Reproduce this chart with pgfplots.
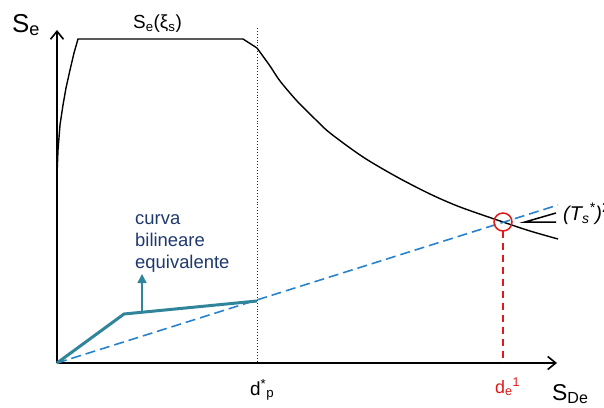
\documentclass[border=0pt]{standalone}
\usepackage{pgfplots}
\pgfplotsset{compat=1.18}
\usepackage{fontspec}
\setmainfont{Liberation Sans}
\usetikzlibrary{arrows.meta}
\definecolor{teal1}{RGB}{49,133,155}
\definecolor{blued}{RGB}{40,130,205}
\definecolor{navyt}{RGB}{31,56,110}
\definecolor{redc}{RGB}{225,25,25}
\begin{document}
\begin{tikzpicture}
\begin{axis}[
  width=604bp, height=408bp, scale only axis,
  xmin=0, xmax=604, ymin=0, ymax=408, y dir=reverse,
  hide axis, clip=false,
]
\addplot[draw=none] coordinates {(0,0) (604,408)};
% axes
\addplot[black, line width=1.6bp, -{Straight Barb[length=8bp,width=13bp]}] coordinates {(57,363) (57,30)};
\addplot[black, line width=1.6bp, -{Straight Barb[length=8bp,width=13bp]}] coordinates {(57,363) (557,363)};
% dotted vertical at d*_p
\addplot[black!85, line width=0.9bp, dotted] coordinates {(257,28) (257,363)};
% elastic spectrum
\addplot[black, line width=1.4bp] coordinates {(57,363) (57,175) (58,150) (60,125) (63,105) (66,88) (70,70) (74,53) (78,39) (243,39) (257,48)};
\addplot[black, line width=1.4bp, smooth] coordinates {(257,48) (270,66) (280,81) (297,101) (315,119) (330,133) (363,157) (397,177) (430,194) (460,207) (503,222) (530,231) (558,239)};
% secant (blue dashed)
\addplot[blued, line width=1.6bp, dash pattern=on 10bp off 5bp] coordinates {(57,363) (558,205)};
% bilinear curve
\addplot[teal1, line width=3bp] coordinates {(57,363) (124,314) (257,301)};
\addplot[teal1, line width=1.5bp, -{Triangle[length=9bp,width=9bp]}] coordinates {(142,312) (142,274)};
% intersection
\addplot[redc, only marks, mark=o, mark size=9bp, mark options={line width=1.5bp}] coordinates {(503,222)};
\addplot[redc, line width=1.5bp, dash pattern=on 7bp off 5bp] coordinates {(503,231) (503,363)};
% (Ts*)^2 pointer
\addplot[black, line width=1.5bp] coordinates {(556,213) (525,222) (556,222)};
% texts
\node[anchor=base west, inner sep=0pt] at (axis cs:12,32) {\fontsize{26}{30}\selectfont S\textsubscript{e}};
\node[anchor=base west, inner sep=0pt] at (axis cs:133,29) {\fontsize{19}{22}\selectfont S\textsubscript{e}(ξ\textsubscript{s})};
\node[anchor=base west, inner sep=0pt, text=navyt] at (axis cs:135,224) {\fontsize{18.5}{22}\selectfont curva};
\node[anchor=base west, inner sep=0pt, text=navyt] at (axis cs:135,246) {\fontsize{18.5}{22}\selectfont bilineare};
\node[anchor=base west, inner sep=0pt, text=navyt] at (axis cs:135,268) {\fontsize{18.5}{22}\selectfont equivalente};
\node[anchor=base west, inner sep=0pt] at (axis cs:250,395) {\fontsize{19}{22}\selectfont d\textsuperscript{*}\textsubscript{p}};
\node[anchor=base west, inner sep=0pt, text=redc] at (axis cs:495,393) {\fontsize{18}{22}\selectfont d\textsubscript{e}\textsuperscript{1}};
\node[anchor=base west, inner sep=0pt] at (axis cs:552,400) {\fontsize{23}{26}\selectfont S\textsubscript{De}};
\node[anchor=base west, inner sep=0pt, overlay] at (axis cs:563,220) {\fontsize{20}{24}\selectfont \textit{(T\textsubscript{s}\textsuperscript{*})}\textsuperscript{2}};
\end{axis}
\end{tikzpicture}
\end{document}
